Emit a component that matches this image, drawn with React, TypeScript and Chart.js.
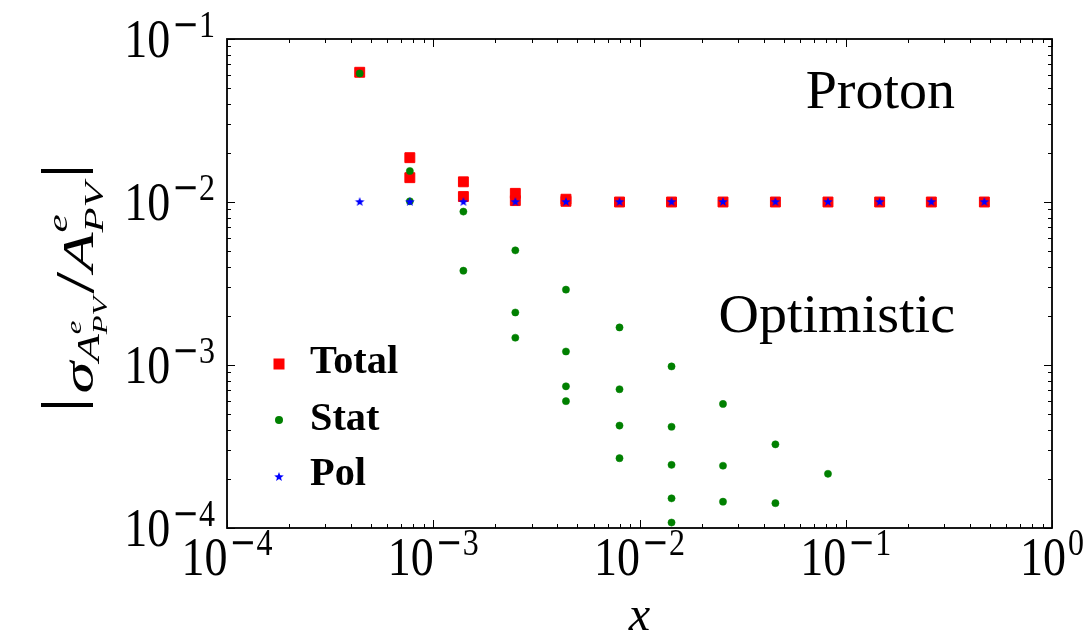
import React, { useEffect, useRef } from 'react';
import { Chart, registerables } from 'chart.js';

Chart.register(...registerables);

// ---------- data ----------
const totalX = [4.4e-4, 7.7e-4, 7.7e-4, 1.4e-3, 1.4e-3, 2.5e-3, 2.5e-3, 4.4e-3, 4.4e-3, 8.0e-3, 1.43e-2, 2.54e-2, 4.56e-2, 8.2e-2, 0.146, 0.26, 0.47];
const totalY = [0.0625, 0.0187, 0.0141, 0.0133, 0.0108, 0.0113, 0.0102, 0.0104, 0.0101, 0.01, 0.01, 0.01, 0.01, 0.01, 0.01, 0.01, 0.01];

const statX = [
  4.4e-4,
  7.7e-4, 7.7e-4,
  1.4e-3, 1.4e-3,
  2.5e-3, 2.5e-3, 2.5e-3,
  4.4e-3, 4.4e-3, 4.4e-3, 4.4e-3,
  8.0e-3, 8.0e-3, 8.0e-3, 8.0e-3,
  1.43e-2, 1.43e-2, 1.43e-2, 1.43e-2, 1.43e-2,
  2.54e-2, 2.54e-2, 2.54e-2,
  4.56e-2, 4.56e-2,
  8.2e-2,
];
const statY = [
  0.0615,
  0.0155, 0.0101,
  0.00873, 0.00379,
  0.00505, 0.0021, 0.00147,
  0.0029, 0.00121, 0.00074, 0.0006,
  0.0017, 0.00071, 0.000425, 0.000268,
  0.00098, 0.000418, 0.000244, 0.000152, 0.000108,
  0.000577, 0.000241, 0.000145,
  0.000326, 0.000142,
  0.000215,
];

const polX = [4.4e-4, 7.7e-4, 1.4e-3, 2.5e-3, 4.4e-3, 8.0e-3, 1.43e-2, 2.54e-2, 4.56e-2, 8.2e-2, 0.146, 0.26, 0.47];
const polY = [0.01, 0.01, 0.01, 0.01, 0.01, 0.01, 0.01, 0.01, 0.01, 0.01, 0.01, 0.01, 0.01];

const xTickExps = [-4, -3, -2, -1, 0];
const yTickExps = [-4, -3, -2, -1];
const legendLabels = ['Total', 'Stat', 'Pol'];
const annotations = ['Proton', 'Optimistic'];

const RED = '#ff0000';
const GREEN = '#008000';
const BLUE = '#0000ff';
const SERIF = '"Liberation Serif", "DejaVu Serif", serif';

type Run = { t: string; font: string; dy?: number; dx?: number; noAdv?: boolean };

function runsWidth(ctx: CanvasRenderingContext2D, runs: Run[]) {
  let w = 0;
  for (const r of runs) {
    ctx.font = r.font;
    const m = ctx.measureText(r.t).width;
    w += (r.dx || 0) + (r.noAdv ? 0 : m);
  }
  return w;
}

function drawRuns(ctx: CanvasRenderingContext2D, runs: Run[], x: number, y: number, sx: number, sy: number, align: 'left' | 'center' | 'right') {
  const w = runsWidth(ctx, runs);
  ctx.save();
  ctx.translate(x, y);
  ctx.scale(sx, sy);
  ctx.textAlign = 'left';
  ctx.textBaseline = 'alphabetic';
  ctx.fillStyle = '#000';
  let cx = align === 'left' ? 0 : align === 'center' ? -w / 2 : -w;
  for (const r of runs) {
    ctx.font = r.font;
    cx += r.dx || 0;
    ctx.fillText(r.t, cx, r.dy || 0);
    if (!r.noAdv) cx += ctx.measureText(r.t).width;
  }
  ctx.restore();
}

function powRuns(exp: number): Run[] {
  const runs: Run[] = [{ t: '10', font: `46px ${SERIF}` }];
  const supDy = -16.7;
  if (exp < 0) {
    runs.push({ t: '\u2212', font: `32px "DejaVu Serif", serif`, dy: supDy, dx: 2 });
    runs.push({ t: String(-exp), font: `32px ${SERIF}`, dy: supDy });
  } else {
    runs.push({ t: String(exp), font: `32px ${SERIF}`, dy: supDy, dx: 2 });
  }
  return runs;
}

function makeStar(color: string, outer: number) {
  const size = Math.ceil(outer * 2 + 2);
  const c = document.createElement('canvas');
  c.width = size;
  c.height = size;
  const g = c.getContext('2d')!;
  const cx = size / 2;
  const cy = size / 2;
  const inner = outer * 0.42;
  g.beginPath();
  for (let i = 0; i < 10; i++) {
    const r = i % 2 === 0 ? outer : inner;
    const a = -Math.PI / 2 + (i * Math.PI) / 5;
    const px = cx + r * Math.cos(a);
    const py = cy + r * Math.sin(a);
    if (i === 0) g.moveTo(px, py);
    else g.lineTo(px, py);
  }
  g.closePath();
  g.fillStyle = color;
  g.fill();
  return c;
}

export default function App() {
  const ref = useRef<HTMLCanvasElement | null>(null);

  useEffect(() => {
    const canvas = ref.current;
    if (!canvas) return;
    const star = makeStar(BLUE, 5);

    const decor = {
      id: 'decor',
      afterDraw(chart: any) {
        const ctx: CanvasRenderingContext2D = chart.ctx;
        const { left, right, top, bottom } = chart.chartArea;
        const xs = chart.scales.x;
        const ys = chart.scales.y;
        ctx.save();
        ctx.strokeStyle = '#000';
        ctx.lineWidth = 1;
        const major = 8;
        const minor = 4;
        ctx.beginPath();
        for (let e = -4; e <= 0; e++) {
          for (let k = 1; k <= 9; k++) {
            const v = k * Math.pow(10, e);
            if (v > 1.0000001) continue;
            const px = Math.round(xs.getPixelForValue(v)) + 0.5;
            const len = k === 1 ? major : minor;
            ctx.moveTo(px, bottom);
            ctx.lineTo(px, bottom - len);
            ctx.moveTo(px, top);
            ctx.lineTo(px, top + len);
          }
        }
        for (let e = -4; e <= -1; e++) {
          for (let k = 1; k <= 9; k++) {
            const v = k * Math.pow(10, e);
            if (v > 0.1000001) continue;
            const py = Math.round(ys.getPixelForValue(v)) + 0.5;
            const len = k === 1 ? major : minor;
            ctx.moveTo(left, py);
            ctx.lineTo(left + len, py);
            ctx.moveTo(right, py);
            ctx.lineTo(right - len, py);
          }
        }
        ctx.stroke();
        ctx.lineWidth = 1.8;
        ctx.strokeRect(left, top, right - left, bottom - top);

        for (const e of xTickExps) {
          const px = xs.getPixelForValue(Math.pow(10, e));
          drawRuns(ctx, powRuns(e), px, 575, 1, 1.2, 'center');
        }
        for (const e of yTickExps) {
          const py = ys.getPixelForValue(Math.pow(10, e));
          drawRuns(ctx, powRuns(e), 215, py + 18, 1, 1.2, 'right');
        }
        ctx.restore();
      },
    };

    const overlay = {
      id: 'overlay',
      afterDraw(chart: any) {
        const ctx: CanvasRenderingContext2D = chart.ctx;
        const { left, right } = chart.chartArea;
        ctx.save();
        drawRuns(ctx, [{ t: 'x', font: `italic 46px ${SERIF}` }], (left + right) / 2, 630, 1.05, 1.05, 'center');

        drawRuns(ctx, [{ t: annotations[0], font: `50px ${SERIF}` }], 955, 108, 1.12, 1.1, 'right');
        drawRuns(ctx, [{ t: annotations[1], font: `50px ${SERIF}` }], 955, 332, 1.12, 1.1, 'right');

        const legY = [373, 430, 485];
        const mkY = [364, 420, 477];
        legendLabels.forEach((lab, i) => {
          drawRuns(ctx, [{ t: lab, font: `bold 36px ${SERIF}` }], 310, legY[i], 1.12, 1.13, 'left');
        });
        ctx.fillStyle = RED;
        ctx.fillRect(279 - 5.5, mkY[0] - 5.5, 11, 11);
        ctx.fillStyle = GREEN;
        ctx.beginPath();
        ctx.arc(279, mkY[1], 4, 0, Math.PI * 2);
        ctx.fill();
        ctx.drawImage(star, 279 - star.width / 2, mkY[2] - star.height / 2);

        const F = 44;
        const yRuns: Run[] = [
          { t: '|', font: `58px ${SERIF}`, dy: -12 },
          { t: '\u03c3', font: `italic ${F}px ${SERIF}`, dx: 2 },
          { t: 'A', font: `italic 31px ${SERIF}`, dy: 6 },
          { t: 'e', font: `italic 21px ${SERIF}`, dy: -12, noAdv: true },
          { t: 'PV', font: `italic 21px ${SERIF}`, dy: 14 },
          { t: '/', font: `54px ${SERIF}`, dx: 2 },
          { t: 'A', font: `italic ${F}px ${SERIF}` },
          { t: 'e', font: `italic 28px ${SERIF}`, dy: -26, noAdv: true },
          { t: 'PV', font: `italic 28px ${SERIF}`, dy: 10 },
          { t: '|', font: `58px ${SERIF}`, dy: -12, dx: 2 },
        ];
        const W = runsWidth(ctx, yRuns);
        const sx = 251 / W;
        ctx.save();
        ctx.translate(93, 288);
        ctx.rotate(-Math.PI / 2);
        drawRuns(ctx, yRuns, 0, 0, sx, 1, 'center');
        ctx.restore();
        ctx.restore();
      },
    };

    const chart = new Chart(canvas, {
      type: 'scatter',
      data: {
        datasets: [
          {
            label: legendLabels[0],
            data: totalX.map((x, i) => ({ x, y: totalY[i] })),
            pointStyle: 'rect',
            pointRadius: 7,
            backgroundColor: RED,
            borderColor: RED,
            borderWidth: 1,
            order: 3,
          },
          {
            label: legendLabels[1],
            data: statX.map((x, i) => ({ x, y: statY[i] })),
            pointStyle: 'circle',
            pointRadius: 3.6,
            backgroundColor: GREEN,
            borderColor: GREEN,
            borderWidth: 0.5,
            order: 2,
          },
          {
            label: legendLabels[2],
            data: polX.map((x, i) => ({ x, y: polY[i] })),
            pointStyle: star as any,
            pointRadius: 5,
            backgroundColor: BLUE,
            borderColor: BLUE,
            order: 1,
          },
        ],
      },
      options: {
        responsive: false,
        animation: false,
        devicePixelRatio: 1,
        layout: { padding: { left: 227, top: 39, right: 36, bottom: 113 } },
        scales: {
          x: { type: 'logarithmic', min: 1e-4, max: 1, display: false },
          y: { type: 'logarithmic', min: 1e-4, max: 0.1, display: false },
        },
        plugins: {
          legend: { display: false },
          tooltip: { enabled: false },
        },
      },
      plugins: [decor, overlay],
    });
    return () => chart.destroy();
  }, []);

  return (
    <div style={{ position: 'absolute', left: 0, top: 0, width: 1088, height: 641, background: '#fff' }}>
      <canvas ref={ref} width={1088} height={641} style={{ display: 'block' }} />
    </div>
  );
}
